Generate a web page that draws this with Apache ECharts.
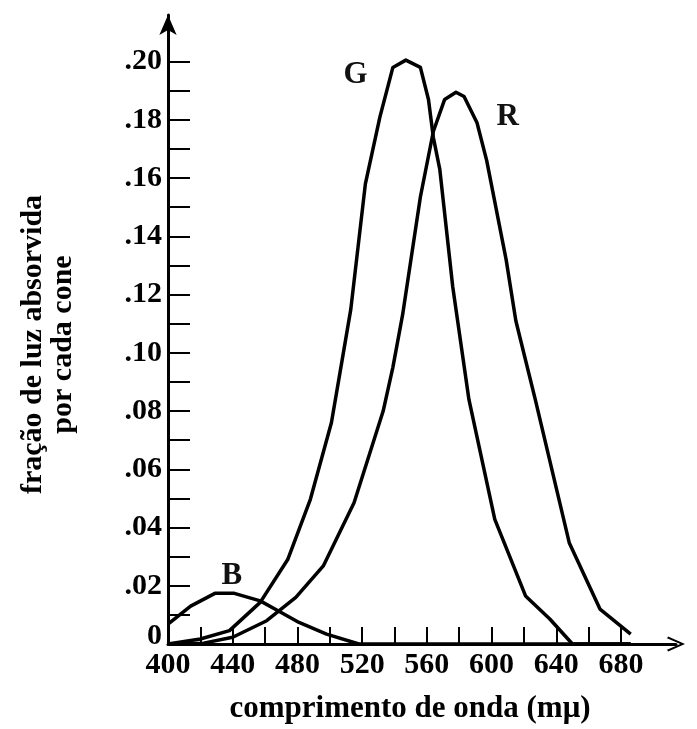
<!DOCTYPE html>
<html>
<head>
<meta charset="utf-8">
<script src="https://cdn.jsdelivr.net/npm/echarts@6/dist/echarts.min.js"></script>
<style>
  html, body { margin: 0; padding: 0; background: #fff; }
  #chartContainer { width: 697px; height: 729px; }
</style>
</head>
<body>
<div id="chartContainer"></div>
<script>
// Cone absorption curves (wavelength in mμ, absorbed fraction)
const bWave = [400, 414, 429, 441, 457, 468, 481, 498, 518, 686];
const bVal  = [0.0068, 0.013, 0.0174, 0.0174, 0.0148, 0.0114, 0.0074, 0.0034, 0, 0];

const gWave = [400, 420, 438, 457, 474, 488, 501, 508, 513, 522, 531, 539, 547, 556, 561, 564, 568, 576, 586, 602, 621, 636, 650, 686];
const gVal  = [0, 0.0017, 0.0046, 0.0143, 0.029, 0.0497, 0.076, 0.0987, 0.115, 0.158, 0.181, 0.198, 0.2005, 0.198, 0.187, 0.174, 0.163, 0.1227, 0.084, 0.0428, 0.0165, 0.0086, 0, 0];

const rWave = [400, 422, 440, 461, 479, 496, 515, 533, 539, 545, 556, 564, 571, 578, 583, 591, 597, 609, 615, 627, 648, 667, 686];
const rVal  = [0, 0.0003, 0.0023, 0.008, 0.016, 0.0268, 0.0485, 0.08, 0.095, 0.113, 0.1535, 0.176, 0.187, 0.1895, 0.188, 0.179, 0.166, 0.132, 0.111, 0.084, 0.0348, 0.012, 0.0034];

// axis ticks and labels
const xTickValues  = [420, 440, 460, 480, 500, 520, 540, 560, 580, 600, 620, 640, 660, 680];
const xLabelValues = [400, 440, 480, 520, 560, 600, 640, 680];
const yTickValues  = [0.01, 0.02, 0.03, 0.04, 0.05, 0.06, 0.07, 0.08, 0.09, 0.10,
                      0.11, 0.12, 0.13, 0.14, 0.15, 0.16, 0.17, 0.18, 0.19, 0.20];
const yLabelValues = [0, 0.02, 0.04, 0.06, 0.08, 0.10, 0.12, 0.14, 0.16, 0.18, 0.20];

// curve name labels
const curveNames = ['B', 'G', 'R'];
const nameSpots  = [[439.5, 0.0233], [516, 0.1955], [610, 0.181]];

const serif = '"Liberation Serif", "DejaVu Serif", serif';

function toPairs(xs, ys) {
    return xs.map((x, i) => [x, ys[i]]);
}

function makeSeries(idx, xs, ys) {
    const name = curveNames[idx];
    return {
        name: name,
        type: 'line',
        data: toPairs(xs, ys),
        symbol: 'none',
        clip: false,
        lineStyle: { color: '#000', width: 3.5, join: 'round' },
        markPoint: {
            symbol: 'circle',
            symbolSize: 0,
            label: {
                show: true,
                formatter: name,
                color: '#111',
                fontFamily: serif,
                fontWeight: 'bold',
                fontSize: 31
            },
            data: [{ coord: nameSpots[idx] }]
        }
    };
}

const myChart = echarts.init(document.getElementById('chartContainer'));

const option = {
    animation: false,
    backgroundColor: '#fff',
    grid: { left: 168, right: 21, top: 15, bottom: 84 },
    xAxis: {
        type: 'value',
        min: 400,
        max: 714,
        splitLine: { show: false },
        axisLine: {
            lineStyle: { color: '#000', width: 3 },
            symbol: ['none', 'path://M0,18 L8,0 L16,18 L14.2,19.2 L8,5 L1.8,19.2 Z'],
            symbolSize: [16, 18]
        },
        axisTick: {
            inside: true,
            length: 17,
            customValues: xTickValues,
            lineStyle: { color: '#000', width: 2 }
        },
        axisLabel: {
            customValues: xLabelValues,
            margin: 6,
            color: '#000',
            fontFamily: serif,
            fontWeight: 'bold',
            fontSize: 30
        },
        name: 'comprimento de onda (mμ)',
        nameLocation: 'middle',
        nameGap: 49,
        nameTextStyle: {
            color: '#000',
            fontFamily: serif,
            fontWeight: 'bold',
            fontSize: 31,
            padding: [0, 24, 0, 0]
        }
    },
    yAxis: {
        type: 'value',
        min: 0,
        max: 0.216,
        splitLine: { show: false },
        axisLine: {
            lineStyle: { color: '#000', width: 3 },
            symbol: ['none', 'arrow'],
            symbolSize: [13, 20]
        },
        axisTick: {
            inside: true,
            length: 22,
            customValues: yTickValues,
            lineStyle: { color: '#000', width: 2 }
        },
        axisLabel: {
            customValues: yLabelValues,
            margin: 6,
            color: '#000',
            fontFamily: serif,
            fontWeight: 'bold',
            fontSize: 30,
            formatter: function (v) {
                if (v === 0) return '{z|0}';
                return '.' + String(Math.round(v * 100)).padStart(2, '0');
            },
            rich: {
                z: {
                    color: '#000',
                    fontFamily: serif,
                    fontWeight: 'bold',
                    fontSize: 30,
                    padding: [0, 0, 16, 0]
                }
            }
        },
        name: 'fração de luz absorvida\npor cada cone',
        nameLocation: 'middle',
        nameRotate: 90,
        nameGap: 90,
        nameTextStyle: {
            color: '#000',
            fontFamily: serif,
            fontWeight: 'bold',
            fontSize: 30,
            lineHeight: 30,
            padding: [0, 30, 0, 0]
        }
    },
    series: [
        makeSeries(0, bWave, bVal),
        makeSeries(1, gWave, gVal),
        makeSeries(2, rWave, rVal)
    ]
};

myChart.setOption(option);
</script>
</body>
</html>
